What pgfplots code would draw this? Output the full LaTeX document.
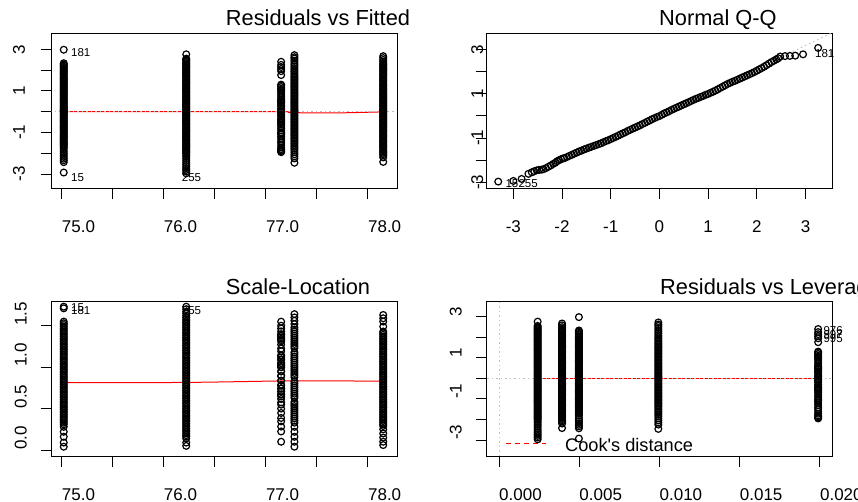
\documentclass[border=0pt]{standalone}
\usepackage{fontspec}
\setmainfont{Liberation Sans}
\usepackage{pgfplots}
\usepackage{pgfplotstable}
\pgfplotsset{compat=1.18}
\definecolor{rgray}{RGB}{190,190,190}
\definecolor{rred}{RGB}{255,0,0}

% group A: fitted 75.02, leverage 0.00498
\pgfplotstableread{
fit lev r
75.02 0.00498 2.98
75.02 0.00498 2.33
75.02 0.00498 2.27
75.02 0.00498 2.22
75.02 0.00498 2.16
75.02 0.00498 2.11
75.02 0.00498 2.05
75.02 0.00498 1.99
75.02 0.00498 1.94
75.02 0.00498 1.88
75.02 0.00498 1.83
75.02 0.00498 1.77
75.02 0.00498 1.71
75.02 0.00498 1.66
75.02 0.00498 1.60
75.02 0.00498 1.55
75.02 0.00498 1.49
75.02 0.00498 1.43
75.02 0.00498 1.38
75.02 0.00498 1.32
75.02 0.00498 1.27
75.02 0.00498 1.21
75.02 0.00498 1.15
75.02 0.00498 1.10
75.02 0.00498 1.04
75.02 0.00498 0.99
75.02 0.00498 0.93
75.02 0.00498 0.87
75.02 0.00498 0.82
75.02 0.00498 0.76
75.02 0.00498 0.71
75.02 0.00498 0.65
75.02 0.00498 0.59
75.02 0.00498 0.54
75.02 0.00498 0.48
75.02 0.00498 0.43
75.02 0.00498 0.37
75.02 0.00498 0.31
75.02 0.00498 0.26
75.02 0.00498 0.20
75.02 0.00498 0.15
75.02 0.00498 0.09
75.02 0.00498 0.04
75.02 0.00498 0.01
75.02 0.00498 -0.03
75.02 0.00498 -0.08
75.02 0.00498 -0.14
75.02 0.00498 -0.19
75.02 0.00498 -0.25
75.02 0.00498 -0.31
75.02 0.00498 -0.36
75.02 0.00498 -0.42
75.02 0.00498 -0.47
75.02 0.00498 -0.53
75.02 0.00498 -0.59
75.02 0.00498 -0.64
75.02 0.00498 -0.70
75.02 0.00498 -0.75
75.02 0.00498 -0.81
75.02 0.00498 -0.87
75.02 0.00498 -0.92
75.02 0.00498 -0.98
75.02 0.00498 -1.03
75.02 0.00498 -1.09
75.02 0.00498 -1.15
75.02 0.00498 -1.20
75.02 0.00498 -1.26
75.02 0.00498 -1.31
75.02 0.00498 -1.37
75.02 0.00498 -1.43
75.02 0.00498 -1.48
75.02 0.00498 -1.54
75.02 0.00498 -1.59
75.02 0.00498 -1.65
75.02 0.00498 -1.71
75.02 0.00498 -1.80
75.02 0.00498 -1.91
75.02 0.00498 -2.00
75.02 0.00498 -2.09
75.02 0.00498 -2.18
75.02 0.00498 -2.26
75.02 0.00498 -2.34
75.02 0.00498 -2.43
75.02 0.00498 -2.93
}\grpA

% group B: fitted 76.22, leverage 0.00241
\pgfplotstableread{
fit lev r
76.22 0.00241 2.76
76.22 0.00241 2.55
76.22 0.00241 2.50
76.22 0.00241 2.44
76.22 0.00241 2.39
76.22 0.00241 2.33
76.22 0.00241 2.28
76.22 0.00241 2.22
76.22 0.00241 2.17
76.22 0.00241 2.11
76.22 0.00241 2.06
76.22 0.00241 2.00
76.22 0.00241 1.95
76.22 0.00241 1.89
76.22 0.00241 1.84
76.22 0.00241 1.78
76.22 0.00241 1.73
76.22 0.00241 1.67
76.22 0.00241 1.62
76.22 0.00241 1.56
76.22 0.00241 1.51
76.22 0.00241 1.45
76.22 0.00241 1.40
76.22 0.00241 1.34
76.22 0.00241 1.29
76.22 0.00241 1.23
76.22 0.00241 1.18
76.22 0.00241 1.12
76.22 0.00241 1.07
76.22 0.00241 1.01
76.22 0.00241 0.96
76.22 0.00241 0.90
76.22 0.00241 0.85
76.22 0.00241 0.79
76.22 0.00241 0.74
76.22 0.00241 0.68
76.22 0.00241 0.63
76.22 0.00241 0.57
76.22 0.00241 0.52
76.22 0.00241 0.46
76.22 0.00241 0.41
76.22 0.00241 0.35
76.22 0.00241 0.30
76.22 0.00241 0.24
76.22 0.00241 0.19
76.22 0.00241 0.13
76.22 0.00241 0.08
76.22 0.00241 0.02
76.22 0.00241 -0.03
76.22 0.00241 -0.09
76.22 0.00241 -0.14
76.22 0.00241 -0.20
76.22 0.00241 -0.25
76.22 0.00241 -0.31
76.22 0.00241 -0.36
76.22 0.00241 -0.42
76.22 0.00241 -0.47
76.22 0.00241 -0.53
76.22 0.00241 -0.58
76.22 0.00241 -0.64
76.22 0.00241 -0.69
76.22 0.00241 -0.75
76.22 0.00241 -0.80
76.22 0.00241 -0.86
76.22 0.00241 -0.91
76.22 0.00241 -0.97
76.22 0.00241 -1.02
76.22 0.00241 -1.08
76.22 0.00241 -1.13
76.22 0.00241 -1.19
76.22 0.00241 -1.24
76.22 0.00241 -1.30
76.22 0.00241 -1.35
76.22 0.00241 -1.41
76.22 0.00241 -1.46
76.22 0.00241 -1.52
76.22 0.00241 -1.57
76.22 0.00241 -1.63
76.22 0.00241 -1.68
76.22 0.00241 -1.74
76.22 0.00241 -1.79
76.22 0.00241 -1.85
76.22 0.00241 -1.90
76.22 0.00241 -1.96
76.22 0.00241 -2.01
76.22 0.00241 -2.10
76.22 0.00241 -2.18
76.22 0.00241 -2.27
76.22 0.00241 -2.36
76.22 0.00241 -2.46
76.22 0.00241 -2.55
76.22 0.00241 -2.64
76.22 0.00241 -2.72
76.22 0.00241 -2.80
76.22 0.00241 -2.88
76.22 0.00241 -2.97
}\grpB

% group C: fitted 78.15, leverage 0.00393
\pgfplotstableread{
fit lev r
78.15 0.00393 2.67
78.15 0.00393 2.58
78.15 0.00393 2.49
78.15 0.00393 2.41
78.15 0.00393 2.33
78.15 0.00393 2.27
78.15 0.00393 2.21
78.15 0.00393 2.15
78.15 0.00393 2.09
78.15 0.00393 2.03
78.15 0.00393 1.97
78.15 0.00393 1.91
78.15 0.00393 1.85
78.15 0.00393 1.79
78.15 0.00393 1.73
78.15 0.00393 1.67
78.15 0.00393 1.61
78.15 0.00393 1.55
78.15 0.00393 1.49
78.15 0.00393 1.43
78.15 0.00393 1.37
78.15 0.00393 1.31
78.15 0.00393 1.25
78.15 0.00393 1.19
78.15 0.00393 1.13
78.15 0.00393 1.07
78.15 0.00393 1.01
78.15 0.00393 0.95
78.15 0.00393 0.89
78.15 0.00393 0.83
78.15 0.00393 0.77
78.15 0.00393 0.71
78.15 0.00393 0.65
78.15 0.00393 0.59
78.15 0.00393 0.53
78.15 0.00393 0.47
78.15 0.00393 0.41
78.15 0.00393 0.35
78.15 0.00393 0.29
78.15 0.00393 0.23
78.15 0.00393 0.17
78.15 0.00393 0.11
78.15 0.00393 0.05
78.15 0.00393 0.02
78.15 0.00393 -0.01
78.15 0.00393 -0.06
78.15 0.00393 -0.12
78.15 0.00393 -0.18
78.15 0.00393 -0.24
78.15 0.00393 -0.30
78.15 0.00393 -0.36
78.15 0.00393 -0.42
78.15 0.00393 -0.48
78.15 0.00393 -0.54
78.15 0.00393 -0.60
78.15 0.00393 -0.66
78.15 0.00393 -0.72
78.15 0.00393 -0.78
78.15 0.00393 -0.84
78.15 0.00393 -0.90
78.15 0.00393 -0.96
78.15 0.00393 -1.02
78.15 0.00393 -1.08
78.15 0.00393 -1.14
78.15 0.00393 -1.20
78.15 0.00393 -1.26
78.15 0.00393 -1.32
78.15 0.00393 -1.38
78.15 0.00393 -1.44
78.15 0.00393 -1.50
78.15 0.00393 -1.56
78.15 0.00393 -1.62
78.15 0.00393 -1.68
78.15 0.00393 -1.74
78.15 0.00393 -1.80
78.15 0.00393 -1.86
78.15 0.00393 -1.92
78.15 0.00393 -1.98
78.15 0.00393 -2.04
78.15 0.00393 -2.10
78.15 0.00393 -2.20
78.15 0.00393 -2.42
}\grpC

% group D: fitted 77.28, leverage 0.00993
\pgfplotstableread{
fit lev r
77.28 0.00993 2.72
77.28 0.00993 2.62
77.28 0.00993 2.55
77.28 0.00993 2.45
77.28 0.00993 2.35
77.28 0.00993 2.26
77.28 0.00993 2.18
77.28 0.00993 2.09
77.28 0.00993 2.01
77.28 0.00993 1.93
77.28 0.00993 1.85
77.28 0.00993 1.77
77.28 0.00993 1.70
77.28 0.00993 1.63
77.28 0.00993 1.56
77.28 0.00993 1.49
77.28 0.00993 1.42
77.28 0.00993 1.35
77.28 0.00993 1.28
77.28 0.00993 1.21
77.28 0.00993 1.14
77.28 0.00993 1.07
77.28 0.00993 1.00
77.28 0.00993 0.93
77.28 0.00993 0.86
77.28 0.00993 0.79
77.28 0.00993 0.72
77.28 0.00993 0.65
77.28 0.00993 0.58
77.28 0.00993 0.51
77.28 0.00993 0.44
77.28 0.00993 0.37
77.28 0.00993 0.30
77.28 0.00993 0.23
77.28 0.00993 0.16
77.28 0.00993 0.09
77.28 0.00993 0.03
77.28 0.00993 -0.04
77.28 0.00993 -0.11
77.28 0.00993 -0.18
77.28 0.00993 -0.25
77.28 0.00993 -0.32
77.28 0.00993 -0.39
77.28 0.00993 -0.46
77.28 0.00993 -0.53
77.28 0.00993 -0.60
77.28 0.00993 -0.67
77.28 0.00993 -0.74
77.28 0.00993 -0.81
77.28 0.00993 -0.88
77.28 0.00993 -0.95
77.28 0.00993 -1.02
77.28 0.00993 -1.09
77.28 0.00993 -1.16
77.28 0.00993 -1.23
77.28 0.00993 -1.30
77.28 0.00993 -1.37
77.28 0.00993 -1.45
77.28 0.00993 -1.53
77.28 0.00993 -1.61
77.28 0.00993 -1.69
77.28 0.00993 -1.77
77.28 0.00993 -1.85
77.28 0.00993 -1.95
77.28 0.00993 -2.05
77.28 0.00993 -2.15
77.28 0.00993 -2.25
77.28 0.00993 -2.46
}\grpD

% group E: fitted 77.15, leverage 0.01989
\pgfplotstableread{
fit lev r
77.15 0.01989 2.40
77.15 0.01989 2.25
77.15 0.01989 2.15
77.15 0.01989 2.05
77.15 0.01989 1.95
77.15 0.01989 1.76
77.15 0.01989 1.30
77.15 0.01989 1.25
77.15 0.01989 1.18
77.15 0.01989 1.10
77.15 0.01989 1.05
77.15 0.01989 1.00
77.15 0.01989 0.90
77.15 0.01989 0.80
77.15 0.01989 0.70
77.15 0.01989 0.60
77.15 0.01989 0.55
77.15 0.01989 0.50
77.15 0.01989 0.45
77.15 0.01989 0.42
77.15 0.01989 0.33
77.15 0.01989 0.25
77.15 0.01989 0.15
77.15 0.01989 0.08
77.15 0.01989 0.01
77.15 0.01989 -0.05
77.15 0.01989 -0.12
77.15 0.01989 -0.20
77.15 0.01989 -0.30
77.15 0.01989 -0.38
77.15 0.01989 -0.45
77.15 0.01989 -0.50
77.15 0.01989 -0.55
77.15 0.01989 -0.62
77.15 0.01989 -0.70
77.15 0.01989 -0.80
77.15 0.01989 -0.90
77.15 0.01989 -1.00
77.15 0.01989 -1.05
77.15 0.01989 -1.10
77.15 0.01989 -1.20
77.15 0.01989 -1.30
77.15 0.01989 -1.42
77.15 0.01989 -1.50
77.15 0.01989 -1.62
77.15 0.01989 -1.72
77.15 0.01989 -1.80
77.15 0.01989 -1.85
77.15 0.01989 -1.90
77.15 0.01989 -1.95
}\grpE

% scale-location values, sqrt(|standardized residual|)
\pgfplotstableread{
fit s
75.02 1.73
75.02 1.71
75.02 1.55
75.02 1.53
75.02 1.51
75.02 1.49
75.02 1.47
75.02 1.45
75.02 1.43
75.02 1.41
75.02 1.39
75.02 1.37
75.02 1.35
75.02 1.33
75.02 1.31
75.02 1.29
75.02 1.27
75.02 1.25
75.02 1.23
75.02 1.21
75.02 1.19
75.02 1.17
75.02 1.15
75.02 1.13
75.02 1.11
75.02 1.09
75.02 1.07
75.02 1.05
75.02 1.03
75.02 1.01
75.02 0.99
75.02 0.97
75.02 0.95
75.02 0.93
75.02 0.91
75.02 0.89
75.02 0.87
75.02 0.85
75.02 0.83
75.02 0.81
75.02 0.79
75.02 0.77
75.02 0.75
75.02 0.73
75.02 0.71
75.02 0.69
75.02 0.67
75.02 0.65
75.02 0.63
75.02 0.61
75.02 0.59
75.02 0.57
75.02 0.55
75.02 0.53
75.02 0.51
75.02 0.49
75.02 0.47
75.02 0.45
75.02 0.43
75.02 0.41
75.02 0.39
75.02 0.37
75.02 0.35
75.02 0.33
75.02 0.31
75.02 0.28
75.02 0.22
75.02 0.16
75.02 0.09
75.02 0.04
}\slA

\pgfplotstableread{
fit s
76.22 1.73
76.22 1.70
76.22 1.67
76.22 1.65
76.22 1.62
76.22 1.60
76.22 1.58
76.22 1.56
76.22 1.54
76.22 1.52
76.22 1.50
76.22 1.48
76.22 1.46
76.22 1.44
76.22 1.42
76.22 1.40
76.22 1.38
76.22 1.36
76.22 1.34
76.22 1.32
76.22 1.30
76.22 1.28
76.22 1.26
76.22 1.24
76.22 1.22
76.22 1.20
76.22 1.18
76.22 1.16
76.22 1.14
76.22 1.12
76.22 1.10
76.22 1.08
76.22 1.06
76.22 1.04
76.22 1.02
76.22 1.00
76.22 0.98
76.22 0.96
76.22 0.94
76.22 0.92
76.22 0.90
76.22 0.88
76.22 0.86
76.22 0.84
76.22 0.82
76.22 0.80
76.22 0.78
76.22 0.76
76.22 0.74
76.22 0.72
76.22 0.70
76.22 0.68
76.22 0.66
76.22 0.64
76.22 0.62
76.22 0.60
76.22 0.58
76.22 0.56
76.22 0.54
76.22 0.52
76.22 0.50
76.22 0.48
76.22 0.46
76.22 0.44
76.22 0.42
76.22 0.40
76.22 0.38
76.22 0.36
76.22 0.34
76.22 0.32
76.22 0.30
76.22 0.28
76.22 0.26
76.22 0.24
76.22 0.22
76.22 0.20
76.22 0.18
76.22 0.16
76.22 0.14
76.22 0.09
76.22 0.05
}\slB

\pgfplotstableread{
fit s
78.15 1.63
78.15 1.59
78.15 1.55
78.15 1.49
78.15 1.43
78.15 1.41
78.15 1.39
78.15 1.37
78.15 1.35
78.15 1.33
78.15 1.31
78.15 1.29
78.15 1.27
78.15 1.25
78.15 1.23
78.15 1.21
78.15 1.19
78.15 1.17
78.15 1.15
78.15 1.13
78.15 1.11
78.15 1.09
78.15 1.07
78.15 1.05
78.15 1.03
78.15 1.01
78.15 0.99
78.15 0.97
78.15 0.95
78.15 0.93
78.15 0.91
78.15 0.89
78.15 0.87
78.15 0.85
78.15 0.83
78.15 0.81
78.15 0.79
78.15 0.77
78.15 0.75
78.15 0.73
78.15 0.71
78.15 0.69
78.15 0.67
78.15 0.65
78.15 0.63
78.15 0.61
78.15 0.59
78.15 0.57
78.15 0.55
78.15 0.53
78.15 0.51
78.15 0.49
78.15 0.47
78.15 0.45
78.15 0.43
78.15 0.41
78.15 0.39
78.15 0.37
78.15 0.35
78.15 0.33
78.15 0.31
78.15 0.29
78.15 0.25
78.15 0.20
78.15 0.15
78.15 0.10
78.15 0.06
}\slC

\pgfplotstableread{
fit s
77.28 1.64
77.28 1.60
77.28 1.56
77.28 1.52
77.28 1.48
77.28 1.455
77.28 1.43
77.28 1.405
77.28 1.38
77.28 1.355
77.28 1.33
77.28 1.305
77.28 1.28
77.28 1.255
77.28 1.23
77.28 1.18
77.28 1.155
77.28 1.13
77.28 1.105
77.28 1.08
77.28 1.055
77.28 1.03
77.28 1.005
77.28 0.98
77.28 0.955
77.28 0.93
77.28 0.905
77.28 0.88
77.28 0.83
77.28 0.805
77.28 0.78
77.28 0.755
77.28 0.73
77.28 0.705
77.28 0.68
77.28 0.655
77.28 0.63
77.28 0.58
77.28 0.555
77.28 0.53
77.28 0.505
77.28 0.48
77.28 0.455
77.28 0.43
77.28 0.405
77.28 0.38
77.28 0.355
77.28 0.33
77.28 0.28
77.28 0.22
77.28 0.16
77.28 0.10
77.28 0.04
}\slD

\pgfplotstableread{
fit s
77.15 1.549
77.15 1.500
77.15 1.466
77.15 1.432
77.15 1.396
77.15 1.327
77.15 1.140
77.15 1.118
77.15 1.086
77.15 1.049
77.15 1.025
77.15 1.000
77.15 0.949
77.15 0.894
77.15 0.837
77.15 0.775
77.15 0.742
77.15 0.707
77.15 0.671
77.15 0.648
77.15 0.574
77.15 0.500
77.15 0.387
77.15 0.283
77.15 0.100
77.15 0.224
77.15 0.346
77.15 0.447
77.15 0.548
77.15 0.616
77.15 0.671
77.15 0.707
77.15 0.742
77.15 0.787
77.15 0.837
77.15 0.894
77.15 0.949
77.15 1.000
77.15 1.025
77.15 1.049
77.15 1.095
77.15 1.140
77.15 1.192
77.15 1.225
77.15 1.273
77.15 1.311
77.15 1.342
77.15 1.360
77.15 1.378
77.15 1.396
}\slE

% normal Q-Q: theoretical quantile, standardized residual
\pgfplotstableread{
q r
-3.31 -2.97
-3.00 -2.94
-2.83 -2.85
-2.69 -2.62
-2.62 -2.55
-2.57 -2.50
-2.52 -2.46
-2.47 -2.44
-2.42 -2.43
-2.38 -2.41
-2.33 -2.36
-2.28 -2.30
-2.23 -2.24
-2.18 -2.17
-2.14 -2.12
-2.10 -2.05
-2.06 -2.00
-2.02 -1.96
-1.98 -1.92
-1.95 -1.91
-1.90 -1.86
-1.85 -1.81
-1.80 -1.76
-1.75 -1.71
-1.70 -1.66
-1.65 -1.61
-1.60 -1.57
-1.55 -1.52
-1.50 -1.48
-1.45 -1.44
-1.40 -1.40
-1.35 -1.36
-1.30 -1.32
-1.25 -1.28
-1.20 -1.24
-1.15 -1.19
-1.10 -1.14
-1.05 -1.10
-1.00 -1.05
-0.95 -1.00
-0.90 -0.95
-0.85 -0.90
-0.80 -0.84
-0.75 -0.79
-0.70 -0.74
-0.65 -0.68
-0.60 -0.63
-0.55 -0.58
-0.50 -0.53
-0.45 -0.48
-0.40 -0.43
-0.35 -0.37
-0.30 -0.32
-0.25 -0.26
-0.20 -0.21
-0.15 -0.15
-0.10 -0.10
-0.05 -0.05
0.00 -0.01
0.05 0.05
0.10 0.11
0.15 0.16
0.20 0.21
0.25 0.27
0.30 0.32
0.35 0.37
0.40 0.42
0.45 0.47
0.50 0.52
0.55 0.57
0.60 0.62
0.65 0.67
0.70 0.72
0.75 0.77
0.80 0.81
0.85 0.86
0.90 0.90
0.95 0.95
1.00 0.99
1.05 1.04
1.10 1.09
1.15 1.14
1.20 1.20
1.25 1.26
1.30 1.32
1.35 1.38
1.40 1.44
1.45 1.49
1.50 1.54
1.55 1.58
1.60 1.63
1.65 1.68
1.70 1.73
1.75 1.78
1.80 1.83
1.85 1.88
1.90 1.93
1.95 1.98
2.00 2.04
2.05 2.10
2.10 2.16
2.15 2.22
2.20 2.29
2.25 2.36
2.30 2.43
2.35 2.49
2.40 2.55
2.44 2.60
2.48 2.68
2.58 2.70
2.68 2.71
2.79 2.72
2.95 2.78
3.26 3.07
}\qq

\pgfplotsset{
  rbase/.style={scale only axis, width=345.5bp, height=154.3bp, anchor=south west,
    axis line style={line width=0.9bp, black},
    every tick/.style={black, line width=0.9bp},
    tick align=outside, major tick length=11bp, tick pos=left,
    minor tick num=0, scaled ticks=false,
    tick label style={font=\fontsize{17bp}{17bp}\selectfont, inner sep=0pt},
  },
  xlabL/.style={xticklabel style={anchor=base west, yshift=-33.3bp}},
  xlabC/.style={xticklabel style={anchor=base, yshift=-33.3bp}},
  ylabC/.style={yticklabel style={xshift=#1, rotate=90, anchor=base}},
  ylabL/.style={yticklabel style={xshift=#1, rotate=90, anchor=base west}},
  pts/.style={only marks, mark=o, mark size=3.4bp, black, mark options={line width=1.2bp}},
  gdot/.style={rgray, line width=0.9bp, dash pattern=on 1.5bp off 3bp},
  rsm/.style={rred, line width=1bp, no marks},
}

\begin{document}
\begin{tikzpicture}
\path[use as bounding box] (0,0) rectangle (858bp,502bp);
\clip (0,0) rectangle (858bp,502bp);

% Residuals vs Fitted
\begin{axis}[rbase, at={(51.7bp,314bp)},
  xmin=74.902, xmax=78.287, ymin=-3.674, ymax=3.751,
  xtick={75,75.5,76,76.5,77,77.5,78}, xticklabels={75.0,,76.0,,77.0,,78.0}, xlabL,
  ytick={-3,-2,-1,0,1,2,3}, yticklabels={-3,,-1,,1,,3}, ylabC=-15.7bp]
\addplot[pts] table[x=fit, y=r] {\grpA};
\addplot[pts] table[x=fit, y=r] {\grpB};
\addplot[pts] table[x=fit, y=r] {\grpE};
\addplot[pts] table[x=fit, y=r] {\grpD};
\addplot[pts] table[x=fit, y=r] {\grpC};
\addplot[rsm, smooth] coordinates {(75.02,0.0)(76.22,0.0)(77.15,0.0)(77.22,-0.03)(77.28,-0.05)(77.7,-0.06)(78.15,-0.01)};
\addplot[gdot] coordinates {(74.8,0)(78.4,0)};
\end{axis}

% Normal Q-Q
\begin{axis}[rbase, at={(486.7bp,314bp)},
  xmin=-3.547, xmax=3.549, ymin=-3.259, ymax=3.712,
  xtick={-3,-2,-1,0,1,2,3}, xticklabels={-3,-2,-1,0,1,2,3}, xlabC,
  ytick={-3,-2,-1,0,1,2,3}, yticklabels={-3,,-1,,1,,3}, ylabC=7.3bp]
\addplot[pts] table[x=q, y=r] {\qq};
\addplot[gdot] coordinates {(-3.6,-3.75)(3.6,3.81)};
\end{axis}

% Scale-Location
\begin{axis}[rbase, at={(51.7bp,46bp)},
  xmin=74.902, xmax=78.287, ymin=-0.072, ymax=1.790,
  xtick={75,75.5,76,76.5,77,77.5,78}, xticklabels={75.0,,76.0,,77.0,,78.0}, xlabL,
  ytick={0,0.5,1,1.5}, yticklabels={0.0,0.5,1.0,1.5}, ylabL=-14bp]
\addplot[pts] table[x=fit, y=s] {\slA};
\addplot[pts] table[x=fit, y=s] {\slB};
\addplot[pts] table[x=fit, y=s] {\slE};
\addplot[pts] table[x=fit, y=s] {\slD};
\addplot[pts] table[x=fit, y=s] {\slC};
\addplot[rsm, smooth] coordinates {(75.02,0.812)(76.22,0.816)(77.15,0.834)(77.28,0.835)(78.15,0.832)};
\end{axis}

% Residuals vs Leverage
\begin{axis}[rbase, at={(486.7bp,46bp)},
  xmin=-0.000766, xmax=0.020766, ymin=-3.779, ymax=3.73,
  xtick={0,0.005,0.01,0.015,0.02}, xticklabels={0.000,0.005,0.010,0.015,0.020}, xlabL,
  ytick={-3,-2,-1,0,1,2,3}, yticklabels={-3,,-1,,1,,3}, ylabL=-14bp]
\addplot[pts] table[x=lev, y=r] {\grpB};
\addplot[pts] table[x=lev, y=r] {\grpC};
\addplot[pts] table[x=lev, y=r] {\grpA};
\addplot[pts] table[x=lev, y=r] {\grpD};
\addplot[pts] table[x=lev, y=r] {\grpE};
\addplot[rsm] coordinates {(0.00241,0.0)(0.00393,0.0)(0.00498,0.0)(0.00993,0.0)(0.01989,0.0)};
\addplot[gdot] coordinates {(-0.001,0)(0.021,0)};
\addplot[gdot] coordinates {(0,-4)(0,4)};
\end{axis}

% titles
\begin{scope}[every node/.style={anchor=base west, inner sep=0pt, font=\fontsize{21.8bp}{22bp}\selectfont}]
\node at (225.7bp,476bp) {Residuals vs Fitted};
\node at (659bp,476bp) {Normal Q-Q};
\node at (225.7bp,207.7bp) {Scale-Location};
\node at (660bp,207.7bp) {Residuals vs Leverage};
\end{scope}

% point labels
\begin{scope}[every node/.style={anchor=west, inner sep=0pt, font=\fontsize{11.5bp}{12bp}\selectfont}]
\node at (71bp,449.3bp) {181};
\node at (71bp,324.3bp) {15};
\node at (181.7bp,324.3bp) {255};
\node at (815bp,448.7bp) {181};
\node at (505.3bp,318.7bp) {15};
\node at (518.3bp,318.7bp) {255};
\node at (71bp,194bp) {15};
\node at (71bp,191.3bp) {181};
\node at (181.7bp,191bp) {255};
\node at (823.3bp,171bp) {976};
\node at (823.3bp,167bp) {997};
\node at (823.3bp,163.7bp) {995};
\end{scope}

% Cook's distance legend
\draw[draw=red, line width=1.3bp, dash pattern=on 5bp off 4bp] (506bp,58.7bp) -- (546bp,58.7bp);
\node[anchor=base west, inner sep=0pt, font=\fontsize{18.2bp}{18bp}\selectfont] at (565bp,50.3bp) {Cook\textquotesingle s distance};
\end{tikzpicture}
\end{document}
